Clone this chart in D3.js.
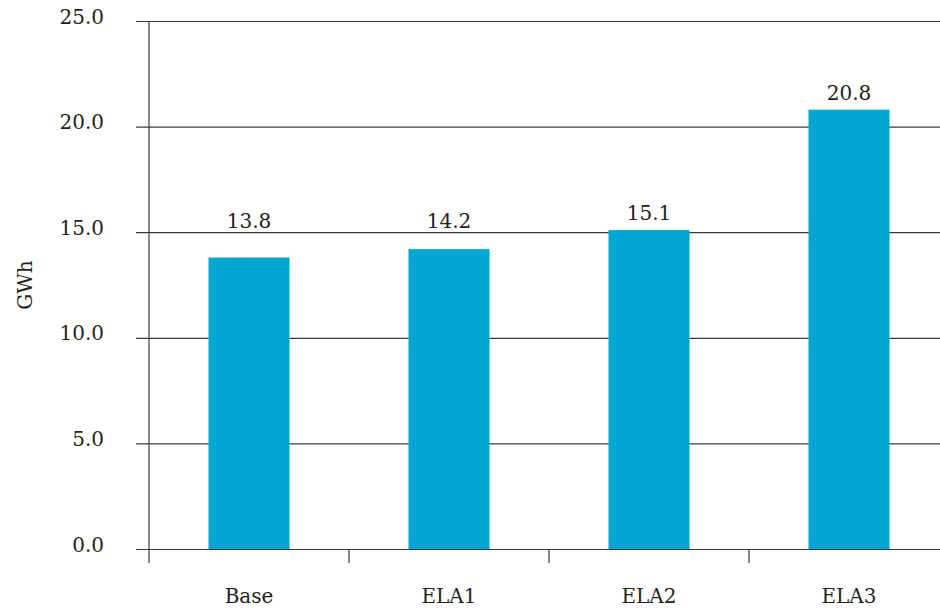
<!DOCTYPE html>
<html>
<head>
<meta charset="utf-8">
<script src="https://cdn.jsdelivr.net/npm/d3@7/dist/d3.min.js"></script>
<style>
  html, body { margin: 0; padding: 0; background: #fff; }
  svg { display: block; }
  text { font-family: "DejaVu Serif", "Liberation Serif", serif; fill: #231f20; }
</style>
</head>
<body>
<svg id="chart" width="940" height="611"></svg>
<script>
// Annual energy per scenario (GWh)
const categories = ["Base", "ELA1", "ELA2", "ELA3"];
const values = [13.8, 14.2, 15.1, 20.8];
const yTicks = [0, 5, 10, 15, 20, 25];
const yLabel = "GWh";

const svg = d3.select("#chart");
const margin = { left: 149, right: -9, top: 21, bottom: 62 };
const W = 940, H = 611;
const fontSize = "20px";

const x = d3.scaleBand()
  .domain(categories)
  .range([margin.left, W - margin.right])
  .padding(0);

const y = d3.scaleLinear()
  .domain([0, 25])
  .range([H - margin.bottom, margin.top]);

const barW = x.bandwidth() * 0.405;
const fmt = d3.format(".1f");

// horizontal gridlines with short outward ticks
const yAxis = d3.axisLeft(y)
  .tickValues(yTicks)
  .tickFormat(fmt)
  .tickSize(-(W - margin.left + 10))
  .tickPadding(45);

const gy = svg.append("g")
  .attr("transform", `translate(${margin.left},0)`)
  .call(yAxis);
gy.select(".domain").remove();
gy.selectAll(".tick line")
  .attr("x1", -13)
  .attr("stroke", "#3a3a3a")
  .attr("stroke-width", 1.2);
gy.selectAll(".tick text")
  .style("font-size", fontSize)
  .attr("dy", "0.1em");

// bars
svg.append("g").selectAll("rect")
  .data(values)
  .join("rect")
  .attr("x", (d, i) => x(categories[i]) + (x.bandwidth() - barW) / 2)
  .attr("width", barW)
  .attr("y", d => y(d))
  .attr("height", d => y(0) - y(d))
  .attr("fill", "#00a6d3");

// value labels: sit 10px above the bar, or lift clear of a gridline they would cross
function labelBaseline(v) {
  let b = y(v) - 10;
  const hit = yTicks.map(y).find(g => g > b - 16 && g < b + 4);
  if (hit !== undefined) b = hit - 4;
  return b;
}

svg.append("g").selectAll("text")
  .data(values)
  .join("text")
  .attr("x", (d, i) => x(categories[i]) + x.bandwidth() / 2)
  .attr("y", d => labelBaseline(d))
  .attr("text-anchor", "middle")
  .style("font-size", fontSize)
  .text(d => fmt(d));

// vertical axis line
svg.append("line")
  .attr("x1", margin.left).attr("x2", margin.left)
  .attr("y1", y(25)).attr("y2", y(0) + 14)
  .attr("stroke", "#3a3a3a")
  .attr("stroke-width", 1.2);

// category boundary ticks below the baseline
const bounds = categories.map(c => x(c));
svg.append("g").selectAll("line")
  .data(bounds.slice(1))
  .join("line")
  .attr("x1", d => d).attr("x2", d => d)
  .attr("y1", y(0)).attr("y2", y(0) + 14)
  .attr("stroke", "#3a3a3a")
  .attr("stroke-width", 1.2);

// category labels
svg.append("g").selectAll("text")
  .data(categories)
  .join("text")
  .attr("x", d => x(d) + x.bandwidth() / 2)
  .attr("y", y(0) + 54)
  .attr("text-anchor", "middle")
  .style("font-size", fontSize)
  .text(d => d);

// y-axis title
svg.append("text")
  .attr("transform", `translate(32,${(y(0) + y(25)) / 2}) rotate(-90)`)
  .attr("text-anchor", "middle")
  .style("font-size", fontSize)
  .text(yLabel);
</script>
</body>
</html>
